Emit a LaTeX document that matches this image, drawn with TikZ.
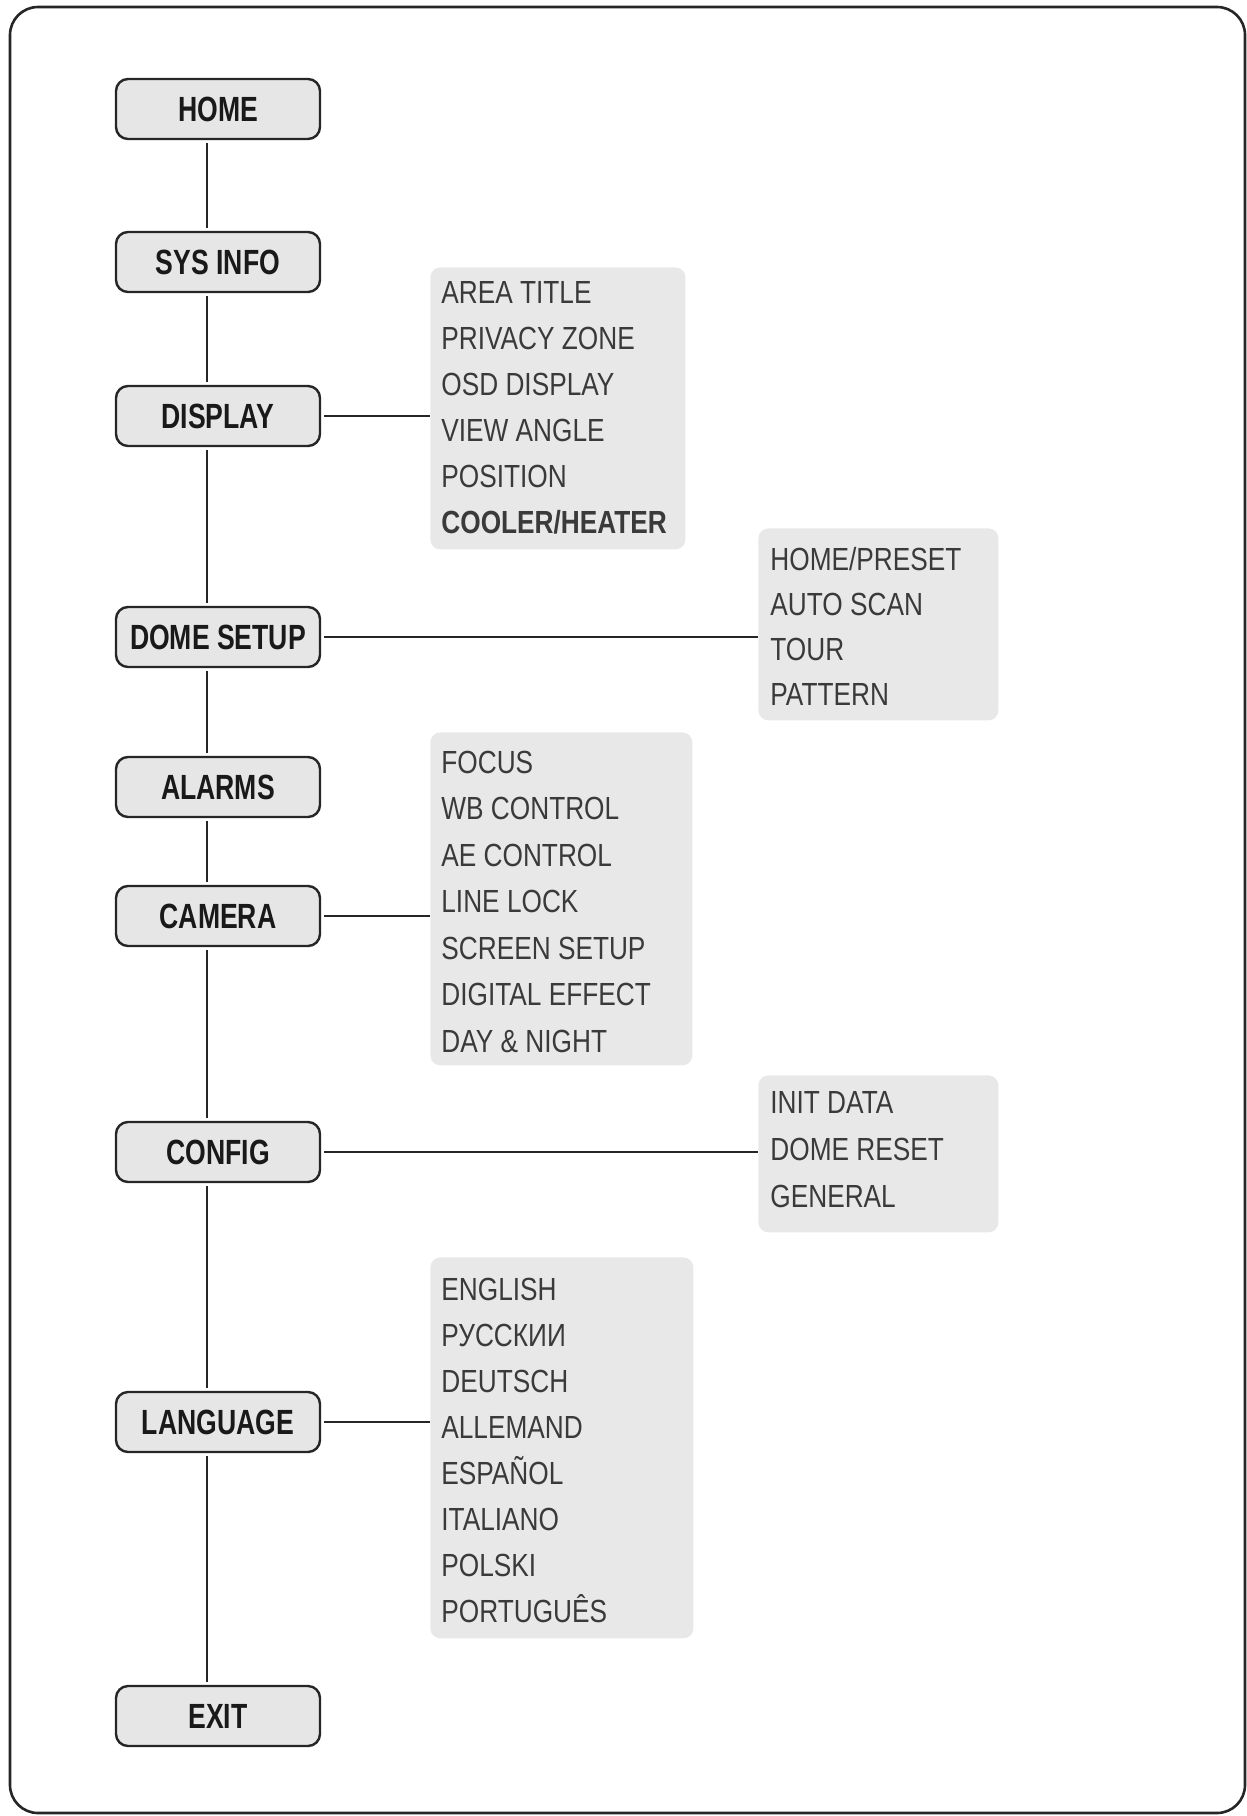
\documentclass[tikz,border=0pt]{standalone}
\usepackage{fontspec}
\setmainfont{Liberation Sans}[FakeStretch=0.82]
\newfontfamily\labelfont{Liberation Sans}[FakeStretch=0.76]
\definecolor{boxgray}{HTML}{E6E6E6}
\definecolor{menugray}{HTML}{E8E8E8}
\definecolor{itemtext}{HTML}{3A3A3A}

\begin{document}
\begin{tikzpicture}[x=0.5pt,y=-0.5pt,
  mainbox/.style={draw=black!85, fill=boxgray, line width=1.2pt, rounded corners=6pt,
    minimum width=102pt, minimum height=30pt, inner sep=0pt,
    font=\labelfont\bfseries\fontsize{17.5}{20}\selectfont, text=black!90},
  menubox/.style={fill=menugray, rounded corners=5pt, inner sep=0pt, anchor=north west},
  item/.style={anchor=base west, inner sep=0pt, font=\fontsize{16}{18}\selectfont, text=itemtext},
  link/.style={line width=1pt, draw=black!85}]
\useasboundingbox (0,0) rectangle (1247,1816);
% outer frame
\draw[line width=1.3pt, black!85, rounded corners=14pt] (10,7) rectangle (1245,1813);

% main menu
\node[mainbox] (home) at (218,109) {HOME};
\node[mainbox] (sysinfo) at (218,262) {SYS INFO};
\node[mainbox] (display) at (218,416) {DISPLAY};
\node[mainbox] (domesetup) at (218,637) {DOME SETUP};
\node[mainbox] (alarms) at (218,787) {ALARMS};
\node[mainbox] (camera) at (218,916) {CAMERA};
\node[mainbox] (config) at (218,1152) {CONFIG};
\node[mainbox] (language) at (218,1422) {LANGUAGE};
\node[mainbox] (exit) at (218,1716) {EXIT};

\coordinate (spine) at (207,0);
\foreach \a/\b in {home/sysinfo, sysinfo/display, display/domesetup, domesetup/alarms,
    alarms/camera, camera/config, config/language, language/exit}
  \draw[link, shorten <=1.5pt, shorten >=1.5pt] (\a.south -| spine) -- (\b.north -| spine);

% sub menus
\node[menubox, minimum width=127.5pt, minimum height=141pt] (dispmenu) at (430,267) {};
\foreach \t [count=\i from 0] in {AREA TITLE, PRIVACY ZONE, OSD DISPLAY, VIEW ANGLE, POSITION,
    {\bfseries COOLER/HEATER}}
  \node[item] (disp\i) at ([shift={(11,{36+46*\i})}]dispmenu.north west) {\t};

\node[menubox, minimum width=120pt, minimum height=96pt] (domemenu) at (758,528) {};
\foreach \t [count=\i from 0] in {HOME/PRESET, AUTO SCAN, TOUR, PATTERN}
  \node[item] (dome\i) at ([shift={(12,{42+45*\i})}]domemenu.north west) {\t};

\node[menubox, minimum width=131pt, minimum height=166.5pt] (cammenu) at (430,732) {};
\foreach \t [count=\i from 0] in {FOCUS, WB CONTROL, AE CONTROL, LINE LOCK, SCREEN SETUP,
    DIGITAL EFFECT, DAY \& NIGHT}
  \node[item] (cam\i) at ([shift={(11,{41+46.5*\i})}]cammenu.north west) {\t};

\node[menubox, minimum width=120pt, minimum height=78.5pt] (cfgmenu) at (758,1075) {};
\foreach \t [count=\i from 0] in {INIT DATA, DOME RESET, GENERAL}
  \node[item] (cfg\i) at ([shift={(12,{38+47*\i})}]cfgmenu.north west) {\t};

\node[menubox, minimum width=131.5pt, minimum height=190.5pt] (langmenu) at (430,1257) {};
\foreach \t [count=\i from 0] in {ENGLISH, РУССКИИ, DEUTSCH, ALLEMAND, ESPAÑOL, ITALIANO,
    POLSKI, PORTUGUÊS}
  \node[item] (lang\i) at ([shift={(11,{43+46*\i})}]langmenu.north west) {\t};

% branches
\draw[link, shorten <=1.5pt] (display.east) -- (display.east -| dispmenu.west);
\draw[link, shorten <=1.5pt] (domesetup.east) -- (domesetup.east -| domemenu.west);
\draw[link, shorten <=1.5pt] (camera.east) -- (camera.east -| cammenu.west);
\draw[link, shorten <=1.5pt] (config.east) -- (config.east -| cfgmenu.west);
\draw[link, shorten <=1.5pt] (language.east) -- (language.east -| langmenu.west);
\end{tikzpicture}
\end{document}
